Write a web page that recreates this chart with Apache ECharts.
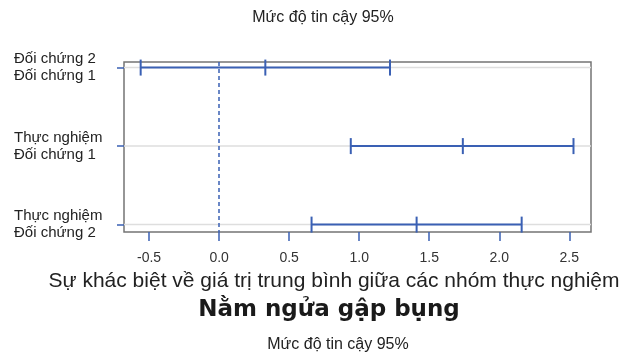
<!DOCTYPE html>
<html>
<head>
<meta charset="utf-8">
<script src="https://cdn.jsdelivr.net/npm/echarts@6/dist/echarts.min.js"></script>
<style>
html,body{margin:0;padding:0;background:#fff;}
#chart{width:636px;height:356px;}
</style>
</head>
<body>
<div id="chart"></div>
<script>
// ---- data ----
var comparisons = ['Đối chứng 2\nĐối chứng 1', 'Thực nghiệm\nĐối chứng 1', 'Thực nghiệm\nĐối chứng 2'];
var lowerCI = [-0.56, 0.94, 0.66];
var meanDiff = [0.33, 1.74, 1.41];
var upperCI = [1.22, 2.53, 2.16];
var xTickValues = [-0.5, 0, 0.5, 1, 1.5, 2, 2.5];
var yTickValues = [0, 1, 2];
var refValue = 0;
var topTitle = 'Mức độ tin cậy 95%';
var xAxisTitle = 'Sự khác biệt về giá trị trung bình giữa các nhóm thực nghiệm';
var mainTitle = 'Nằm ngửa gập bụng';
var bottomNote = 'Mức độ tin cậy 95%';

var BLUE = '#3a60b4';
var rows = comparisons.map(function (c, i) { return [lowerCI[i], meanDiff[i], upperCI[i], i]; });

var chart = echarts.init(document.getElementById('chart'));
chart.setOption({
  animation: false,
  backgroundColor: '#fff',
  grid: { left: 124, right: 45, top: 62, bottom: 124, show: true, borderColor: '#747474', borderWidth: 1.5, backgroundColor: 'transparent' },
  xAxis: {
    type: 'value', min: -0.679, max: 2.655, position: 'bottom',
    axisLine: { show: false, onZero: false },
    splitLine: { show: false },
    axisTick: { show: true, customValues: xTickValues, length: 9, lineStyle: { color: BLUE, width: 1.5 } },
    axisLabel: { customValues: xTickValues, margin: 19, color: '#333', fontSize: 14, fontFamily: 'Liberation Sans',
      formatter: function (v) { return v.toFixed(1); } }
  },
  yAxis: {
    type: 'value', inverse: true, min: -0.071, max: 2.094, position: 'left',
    axisLine: { show: false, onZero: false },
    splitLine: { show: false },
    axisTick: { show: true, customValues: yTickValues, length: 7, lineStyle: { color: BLUE, width: 1.5 } },
    axisLabel: { customValues: yTickValues, margin: 110, align: 'left', color: '#222', fontSize: 15, lineHeight: 17,
      fontFamily: 'Liberation Sans', formatter: function (v) { return comparisons[Math.round(v)]; } }
  },
  graphic: [
    { type: 'text', x: 323, y: 18, style: { text: topTitle, fill: '#222', font: '16px "Liberation Sans"', textAlign: 'center', textVerticalAlign: 'middle' } },
    { type: 'text', x: 334, y: 281, style: { text: xAxisTitle, fill: '#222', font: '21px "Liberation Sans"', textAlign: 'center', textVerticalAlign: 'middle' } },
    { type: 'text', x: 329, y: 310, style: { text: mainTitle, fill: '#1a1a1a', font: 'bold 23px "DejaVu Sans"', textAlign: 'center', textVerticalAlign: 'middle' } },
    { type: 'text', x: 338, y: 345, style: { text: bottomNote, fill: '#222', font: '16px "Liberation Sans"', textAlign: 'center', textVerticalAlign: 'middle' } }
  ],
  series: [{
    type: 'custom',
    data: rows,
    encode: { x: [0, 1, 2], y: 3 },
    renderItem: function (params, api) {
      var cs = params.coordSys;
      var r = api.value(3);
      var pL = api.coord([api.value(0), r]);
      var pM = api.coord([api.value(1), r]);
      var pH = api.coord([api.value(2), r]);
      var y = pL[1];
      var cap = 8;
      var ls = { stroke: BLUE, lineWidth: 2 };
      return {
        type: 'group',
        children: [
          { type: 'line', shape: { x1: cs.x, y1: y, x2: cs.x + cs.width, y2: y }, style: { stroke: '#dedede', lineWidth: 1.5 } },
          { type: 'line', shape: { x1: pL[0], y1: y, x2: pH[0], y2: y }, style: ls },
          { type: 'line', shape: { x1: pL[0], y1: y - cap, x2: pL[0], y2: y + cap }, style: ls },
          { type: 'line', shape: { x1: pM[0], y1: y - cap, x2: pM[0], y2: y + cap }, style: ls },
          { type: 'line', shape: { x1: pH[0], y1: y - cap, x2: pH[0], y2: y + cap }, style: ls }
        ]
      };
    },
    markLine: {
      silent: true, symbol: 'none', label: { show: false },
      lineStyle: { color: BLUE, type: [4, 3], width: 1.5 },
      data: [{ xAxis: refValue }]
    }
  }]
});
</script>
</body>
</html>
